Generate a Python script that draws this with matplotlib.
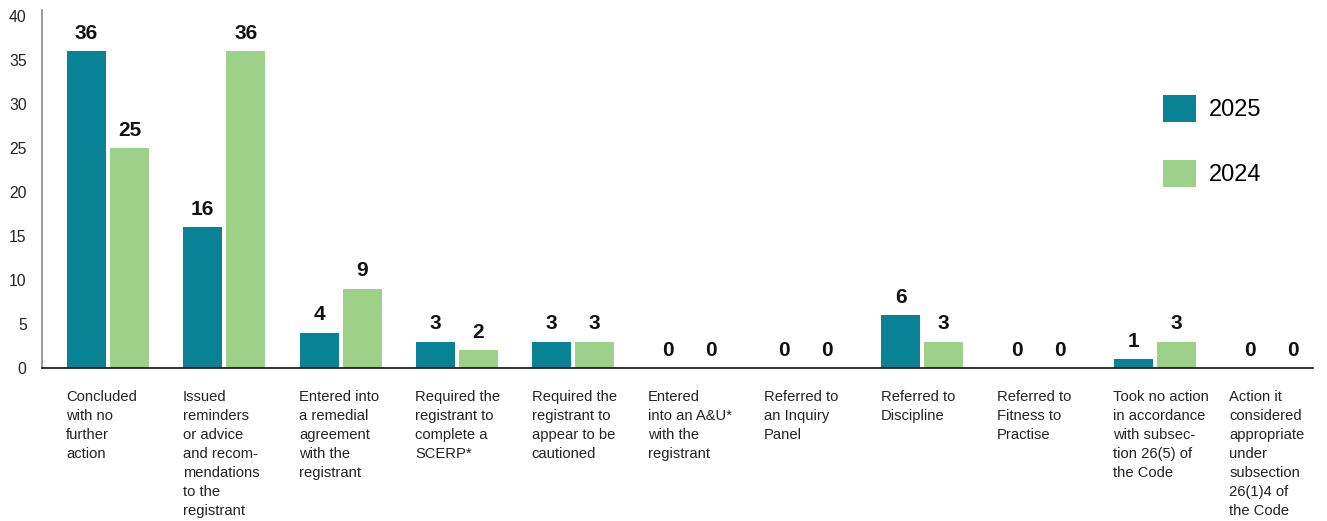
import matplotlib
matplotlib.use("Agg")
import matplotlib.pyplot as plt
import numpy as np

plt.rcParams['font.family'] = ['Liberation Sans', 'DejaVu Sans']

categories = [
    "Concluded\nwith no\nfurther\naction",
    "Issued\nreminders\nor advice\nand recom-\nmendations\nto the\nregistrant",
    "Entered into\na remedial\nagreement\nwith the\nregistrant",
    "Required the\nregistrant to\ncomplete a\nSCERP*",
    "Required the\nregistrant to\nappear to be\ncautioned",
    "Entered\ninto an A&U*\nwith the\nregistrant",
    "Referred to\nan Inquiry\nPanel",
    "Referred to\nDiscipline",
    "Referred to\nFitness to\nPractise",
    "Took no action\nin accordance\nwith subsec-\ntion 26(5) of\nthe Code",
    "Action it\nconsidered\nappropriate\nunder\nsubsection\n26(1)4 of\nthe Code",
]
values_2025 = [36, 16, 4, 3, 3, 0, 0, 6, 0, 1, 0]
values_2024 = [25, 36, 9, 2, 3, 0, 0, 3, 0, 3, 0]
series_names = ["2025", "2024"]
colors = ["#0A8296", "#9DD088"]
yticks = [0, 5, 10, 15, 20, 25, 30, 35, 40]

W, H = 1327, 521
fig = plt.figure(figsize=(W / 100, H / 100), dpi=100)
ax = fig.add_axes([42 / W, 1 - 368 / H, (1313 - 42) / W, (368 - 10) / H])

x = np.arange(len(categories))
bw = 0.335
gap = 0.034
off = bw / 2 + gap / 2

b1 = ax.bar(x - off, values_2025, bw, color=colors[0], label=series_names[0])
b2 = ax.bar(x + off, values_2024, bw, color=colors[1], label=series_names[1])

for bars, vals in ((b1, values_2025), (b2, values_2024)):
    for rect, v in zip(bars, vals):
        ax.annotate(str(v), (rect.get_x() + rect.get_width() / 2, v),
                    xytext=(0, 6), textcoords="offset points",
                    ha="center", va="bottom", fontsize=15, fontweight="bold",
                    color="#111111")

ax.set_xlim(-0.567, 10.36)
ax.set_ylim(0, 40.68)
ax.set_yticks(yticks)
ax.tick_params(axis="y", length=0, pad=11, labelsize=11.3, labelcolor="#222222")
ax.set_xticks([])

for i, lab in enumerate(categories):
    ax.annotate(lab, (x[i] - off - bw / 2, 0), xytext=(-0.5, -15.5),
                textcoords="offset points", xycoords="data",
                ha="left", va="top", fontsize=10.6, linespacing=1.46,
                color="#222222")

for s in ("top", "right"):
    ax.spines[s].set_visible(False)
ax.spines["left"].set_color("#888888")
ax.spines["left"].set_linewidth(1.2)
ax.spines["bottom"].set_color("#111111")
ax.spines["bottom"].set_linewidth(1.2)

leg = fig.legend(handles=[b1, b2], labels=series_names,
                 loc="upper left", bbox_to_anchor=(1163 / W, 1 - 95 / H),
                 frameon=False, fontsize=17, handlelength=1.4,
                 handleheight=1.4, handletextpad=0.55, labelspacing=1.58,
                 borderpad=0, borderaxespad=0)

fig.savefig("out.png", dpi=100)
